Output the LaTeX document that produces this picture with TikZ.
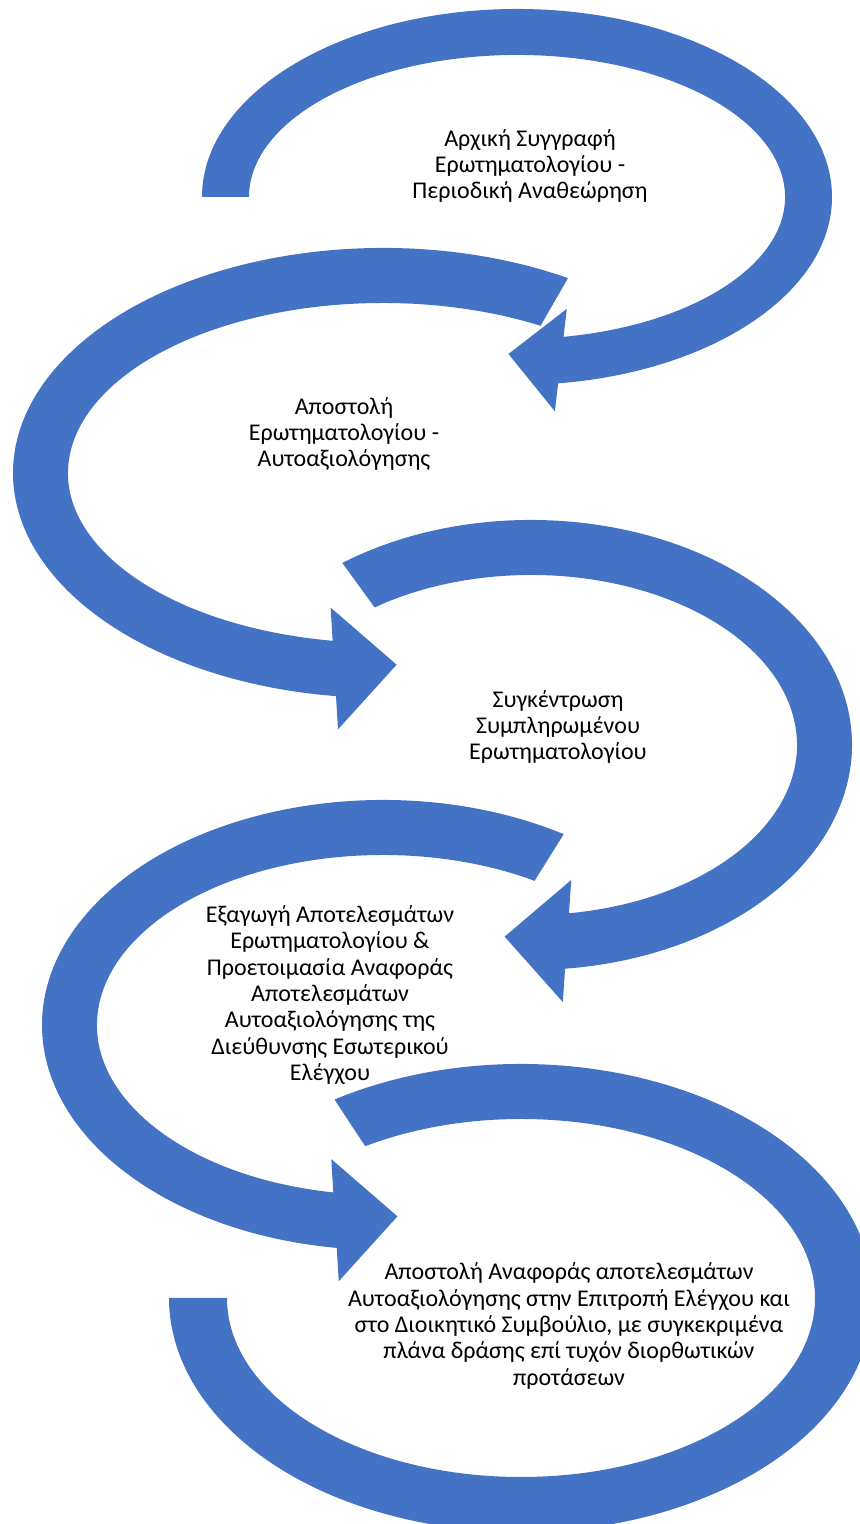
\documentclass[tikz,border=0pt]{standalone}
\usepackage{fontspec}
\setmainfont{Carlito}
\usepackage{tikz}
\usetikzlibrary{calc}
\definecolor{blu}{HTML}{4472C4}
% freccia ellittica: centro, raggi esterni, raggi interni, angolo iniziale, angoli finali (esterno, interno)
\newcommand{\freccia}[9]{%
    \pgfmathsetmacro{\verso}{ifthenelse(#8>#7,90,-90)}
    \coordinate (o) at ({#1+#3*cos(#8)},{#2+#4*sin(#8)});
    \coordinate (i) at ({#1+#5*cos(#9)},{#2+#6*sin(#9)});
    \coordinate (m) at ($(o)!0.5!(i)$);
    \fill[banda] ({#1+#3*cos(#7)},{#2+#4*sin(#7)})
        arc[start angle=#7, end angle=#8, x radius=#3, y radius=#4]
        -- ($(o)!-\ala!(i)$) -- ($(m)!\lung!\verso:(o)$) -- ($(i)!-\ala!(o)$) -- (i)
        arc[start angle=#9, end angle=#7, x radius=#5, y radius=#6] -- cycle;}

\begin{document}
\begin{tikzpicture}[x=0.5pt, y=0.5pt,
    banda/.style={fill=blu},
    testo/.style={align=center, inner sep=0pt, font=\fontsize{12}{13.2}\selectfont}]
    % Parametri
    \pgfmathsetmacro{\ala}{0.6}
    \pgfmathsetmacro{\lung}{2.25}
    \useasboundingbox (0,0) rectangle (860,1524);
    \clip (0,0) rectangle (860,1524);
    % Frecce
    \freccia{517}{1327}{315}{188}{268}{142}{180}{-82.5}{-80}
    \freccia{383}{1051}{370}{225}{315}{170}{60}{262.7}{260.8}
    \freccia{531}{779}{321}{225}{266}{170}{126}{-83.9}{-81.8}
    \freccia{383}{499}{341}{225}{286}{170}{58}{262.2}{260}
    \fill[banda] ({521+352*cos(122)},{226+234*sin(122)})
        arc[start angle=122, end angle=-180, x radius=352, y radius=234] -- ++(58,0)
        arc[start angle=-180, end angle=122, x radius=294, y radius=179] -- cycle;
    % Testi
    \node[testo] (passo1) at (530,1358) {Αρχική Συγγραφή\\Ερωτηματολογίου -\\Περιοδική Αναθεώρηση};
    \node[testo] (passo2) at (344,1090) {Αποστολή\\Ερωτηματολογίου -\\Αυτοαξιολόγησης};
    \node[testo] (passo3) at (558,797) {Συγκέντρωση\\Συμπληρωμένου\\Ερωτηματολογίου};
    \node[testo] (passo4) at (330,529) {Εξαγωγή Αποτελεσμάτων\\Ερωτηματολογίου \&\\Προετοιμασία Αναφοράς\\Αποτελεσμάτων\\Αυτοαξιολόγησης της\\Διεύθυνσης Εσωτερικού\\Ελέγχου};
    \node[testo] (passo5) at (569,198) {Αποστολή Αναφοράς αποτελεσμάτων\\Αυτοαξιολόγησης στην Επιτροπή Ελέγχου και\\στο Διοικητικό Συμβούλιο, με συγκεκριμένα\\πλάνα δράσης επί τυχόν διορθωτικών\\προτάσεων};
\end{tikzpicture}
\end{document}
